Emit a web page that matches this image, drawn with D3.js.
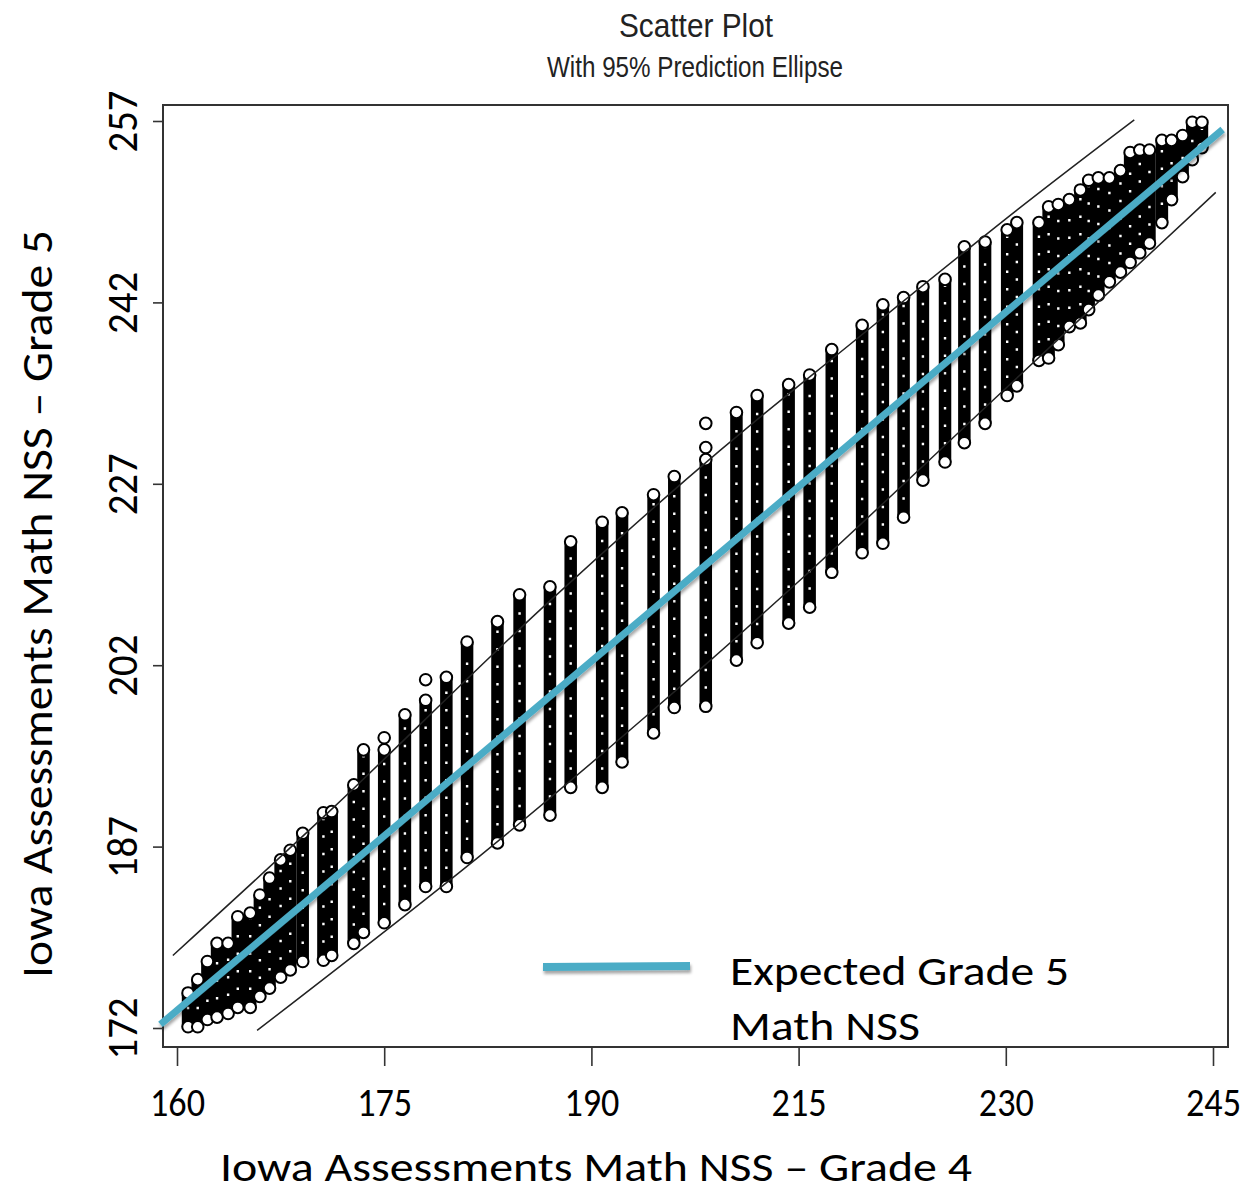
<!DOCTYPE html>
<html>
<head>
<meta charset="utf-8">
<script src="https://cdn.jsdelivr.net/npm/d3@7"></script>
<style>
  body { margin: 0; background: #fff; }
</style>
</head>
<body>
<div id="chart"></div>
<script>
// tick labels as printed on the axes
var xTicks = [160, 175, 190, 215, 230, 245];
var yTicks = [172, 187, 202, 227, 242, 257];

// one column of points per grade 4 score: lowest and highest grade 5 score
var colX = [160.8, 161.5, 162.2, 162.9, 163.7, 164.4, 165.3, 166.0, 166.7, 167.5,
            168.2, 169.1, 170.6, 171.2, 172.8, 173.5, 175.0, 176.5, 178.0, 179.5,
            181.0, 183.2, 184.8, 187.0, 188.5, 191.3, 193.7, 197.5, 200.0, 203.8,
            207.5, 210.0, 213.8, 215.8, 217.4, 219.6, 221.1, 222.6, 224.0, 225.6,
            227.0, 228.5, 230.1, 230.8, 232.4, 233.1, 233.8, 234.6, 235.4, 236.0,
            236.7, 237.5, 238.3, 239.0, 239.7, 240.4, 241.3, 242.0, 242.8, 243.5, 244.2];
var colLo = [172.1, 172.1, 172.7, 172.9, 173.2, 173.7, 173.7, 174.6, 175.3, 176.2,
             176.8, 177.5, 177.6, 178.0, 179.0, 179.9, 180.7, 182.2, 183.7, 183.7,
             186.1, 187.3, 188.8, 189.6, 191.9, 191.9, 194.0, 196.4, 198.5, 198.6,
             202.7, 205.1, 207.8, 210.0, 214.8, 217.5, 218.8, 222.4, 227.3, 228.8,
             230.4, 232.0, 234.3, 235.1, 237.2, 237.4, 238.5, 240.0, 240.3, 241.4,
             242.6, 243.7, 244.5, 245.3, 246.1, 246.9, 248.6, 250.5, 252.4, 253.8, 254.8];
var colHi = [174.9, 176.0, 177.5, 179.0, 179.0, 181.2, 181.5, 183.0, 184.4, 185.9,
             186.7, 188.1, 189.8, 189.9, 192.1, 195.0, 195.0, 197.9, 199.1, 201.0,
             205.2, 208.0, 211.7, 212.8, 219.0, 221.7, 223.0, 225.5, 227.6, 229.0,
             232.9, 234.3, 235.2, 236.0, 238.1, 240.1, 241.8, 242.4, 243.3, 243.9,
             246.6, 247.0, 248.0, 248.6, 248.6, 249.9, 250.1, 250.5, 251.3, 252.1,
             252.3, 252.3, 252.9, 254.4, 254.6, 254.6, 255.4, 255.4, 255.8, 256.9, 256.9];

// stray points above their column
var outX = [175.0, 178.0, 203.8, 203.8];
var outY = [196.0, 200.8, 232.0, 230.0];

// 95% prediction ellipse, upper and lower edges
var upperX = [159.7, 171.3, 186.5, 205.6, 218.8, 231.1, 239.3];
var upperY = [178.0, 190.2, 210.0, 229.8, 238.6, 249.9, 257.1];
var lowerX = [165.8, 182.0, 196.8, 215.1, 230.1, 245.2];
var lowerY = [171.8, 186.3, 197.9, 213.7, 235.0, 251.1];

// expected grade 5 line
var expectedX = [158.8, 245.7];
var expectedY = [172.3, 256.3];

/*
 *  LAYOUT
 */
var W = 1247, H = 1195;
var frame = {left: 163, top: 105, right: 1228, bottom: 1047};
var x0 = 177, xStep = 207.2, y0 = 1028, yStep = 181.4;
var blue = "#4bacc6";
var bodyFont = "Carlito, Lato, 'Open Sans', sans-serif";
var titleFont = "'Liberation Sans Narrow', 'Arial Narrow', 'Liberation Sans', sans-serif";

// labels sit at even spacing, so the scales are piecewise
var x = d3.scaleLinear()
    .domain(xTicks)
    .range(xTicks.map(function(d, i) { return x0 + i * xStep; }));
var y = d3.scaleLinear()
    .domain(yTicks)
    .range(yTicks.map(function(d, i) { return y0 - i * yStep; }));

var svg = d3.select("#chart")
    .append("svg")
        .attr("width", W)
        .attr("height", H);

svg.append("defs")
    .append("filter")
        .attr("id", "shadow")
        .attr("filterUnits", "userSpaceOnUse")
        .attr("x", 0).attr("y", 0).attr("width", W).attr("height", H)
    .append("feDropShadow")
        .attr("dx", 1)
        .attr("dy", 3)
        .attr("stdDeviation", 1.6)
        .attr("flood-color", "#000")
        .attr("flood-opacity", 0.35);

svg.append("rect")
    .attr("x", frame.left)
    .attr("y", frame.top)
    .attr("width", frame.right - frame.left)
    .attr("height", frame.bottom - frame.top)
    .attr("fill", "none")
    .attr("stroke", "#333")
    .attr("stroke-width", 2);

/*
 *  POINTS
 */
var cols = colX.map(function(d, i) { return {x: d, lo: colLo[i], hi: colHi[i]}; });

var pts = svg.append("g");
pts.selectAll(".band")
    .data(cols)
    .join("line")
        .attr("class", "band")
        .attr("x1", function(d) { return x(d.x); })
        .attr("x2", function(d) { return x(d.x); })
        .attr("y1", function(d) { return y(d.lo); })
        .attr("y2", function(d) { return y(d.hi); })
        .attr("stroke", "#000")
        .attr("stroke-width", 12.5);

pts.selectAll(".holes")
    .data(cols)
    .join("line")
        .attr("class", "holes")
        .attr("x1", function(d) { return x(d.x); })
        .attr("x2", function(d) { return x(d.x); })
        .attr("y1", function(d) { return y(d.lo); })
        .attr("y2", function(d) { return y(d.hi); })
        .attr("stroke", "#fff")
        .attr("stroke-width", 2.4)
        .style("stroke-dasharray", "2.5, 15");

var ends = [];
cols.forEach(function(d) {
    ends.push([d.x, d.lo]);
    ends.push([d.x, d.hi]);
});
outX.forEach(function(d, i) { ends.push([d, outY[i]]); });

pts.selectAll("circle")
    .data(ends)
    .join("circle")
        .attr("cx", function(d) { return x(d[0]); })
        .attr("cy", function(d) { return y(d[1]); })
        .attr("r", 5.8)
        .attr("fill", "#fff")
        .attr("stroke", "#000")
        .attr("stroke-width", 2);

/*
 *  ELLIPSE + EXPECTED LINE
 */
var curve = d3.line()
    .x(function(d) { return x(d[0]); })
    .y(function(d) { return y(d[1]); })
    .curve(d3.curveCatmullRom);

[[upperX, upperY], [lowerX, lowerY]].forEach(function(s) {
    svg.append("path")
        .datum(s[0].map(function(d, i) { return [d, s[1][i]]; }))
        .attr("fill", "none")
        .attr("stroke", "#222")
        .attr("stroke-width", 1.5)
        .attr("d", curve);
});

svg.append("path")
    .datum(expectedX.map(function(d, i) { return [d, expectedY[i]]; }))
    .attr("fill", "none")
    .attr("stroke", blue)
    .attr("stroke-width", 7)
    .attr("filter", "url(#shadow)")
    .attr("d", d3.line()
        .x(function(d) { return x(d[0]); })
        .y(function(d) { return y(d[1]); }));

/*
 *  AXES
 */
var yAxis = svg.append("g")
    .attr("transform", "translate(" + frame.left + ",0)")
    .call(d3.axisLeft(y).tickValues(yTicks).tickSize(10).tickFormat(d3.format("d")));
yAxis.select(".domain").remove();
yAxis.selectAll("line").attr("stroke", "#333").attr("stroke-width", 1.6);
yAxis.selectAll("text")
    .attr("transform", "rotate(-90)")
    .attr("x", 0)
    .attr("y", -26)
    .attr("dy", 0)
    .attr("text-anchor", "middle")
    .attr("fill", "#000")
    .attr("font-family", bodyFont)
    .attr("font-size", 44)
    .attr("textLength", 62)
    .attr("lengthAdjust", "spacingAndGlyphs");

var xAxis = svg.append("g")
    .attr("transform", "translate(0," + frame.bottom + ")")
    .call(d3.axisBottom(x).tickValues(xTicks).tickSize(19).tickFormat(d3.format("d")));
xAxis.select(".domain").remove();
xAxis.selectAll("line").attr("stroke", "#333").attr("stroke-width", 1.6);
xAxis.selectAll("text")
    .attr("y", 69)
    .attr("dy", 0)
    .attr("fill", "#000")
    .attr("font-family", bodyFont)
    .attr("font-size", 40)
    .attr("textLength", 55)
    .attr("lengthAdjust", "spacingAndGlyphs");

/*
 *  TEXT
 */
svg.append("text")
    .attr("x", 696).attr("y", 37)
    .attr("text-anchor", "middle")
    .attr("font-family", titleFont)
    .attr("font-size", 34)
    .attr("fill", "#222")
    .attr("textLength", 154)
    .attr("lengthAdjust", "spacingAndGlyphs")
    .text("Scatter Plot");

svg.append("text")
    .attr("x", 695).attr("y", 77)
    .attr("text-anchor", "middle")
    .attr("font-family", titleFont)
    .attr("font-size", 29)
    .attr("fill", "#222")
    .attr("textLength", 296)
    .attr("lengthAdjust", "spacingAndGlyphs")
    .text("With 95% Prediction Ellipse");

svg.append("text")
    .attr("x", 596).attr("y", 1181)
    .attr("text-anchor", "middle")
    .attr("font-family", bodyFont)
    .attr("font-size", 41)
    .attr("fill", "#000")
    .attr("textLength", 752)
    .attr("lengthAdjust", "spacingAndGlyphs")
    .text("Iowa Assessments Math NSS \u2013 Grade 4");

svg.append("text")
    .attr("transform", "translate(52,604)rotate(-90)")
    .attr("text-anchor", "middle")
    .attr("font-family", bodyFont)
    .attr("font-size", 44)
    .attr("fill", "#000")
    .attr("textLength", 748)
    .attr("lengthAdjust", "spacingAndGlyphs")
    .text("Iowa Assessments Math NSS \u2013 Grade 5");

// legend
svg.append("line")
    .attr("x1", 543).attr("x2", 690)
    .attr("y1", 967).attr("y2", 966)
    .attr("stroke", blue)
    .attr("stroke-width", 8)
    .attr("filter", "url(#shadow)");

svg.append("text")
    .attr("x", 730).attr("y", 985)
    .attr("font-family", bodyFont)
    .attr("font-size", 42)
    .attr("fill", "#000")
    .attr("textLength", 339)
    .attr("lengthAdjust", "spacingAndGlyphs")
    .text("Expected Grade 5");

svg.append("text")
    .attr("x", 730).attr("y", 1040)
    .attr("font-family", bodyFont)
    .attr("font-size", 42)
    .attr("fill", "#000")
    .attr("textLength", 190)
    .attr("lengthAdjust", "spacingAndGlyphs")
    .text("Math NSS");
</script>
</body>
</html>
